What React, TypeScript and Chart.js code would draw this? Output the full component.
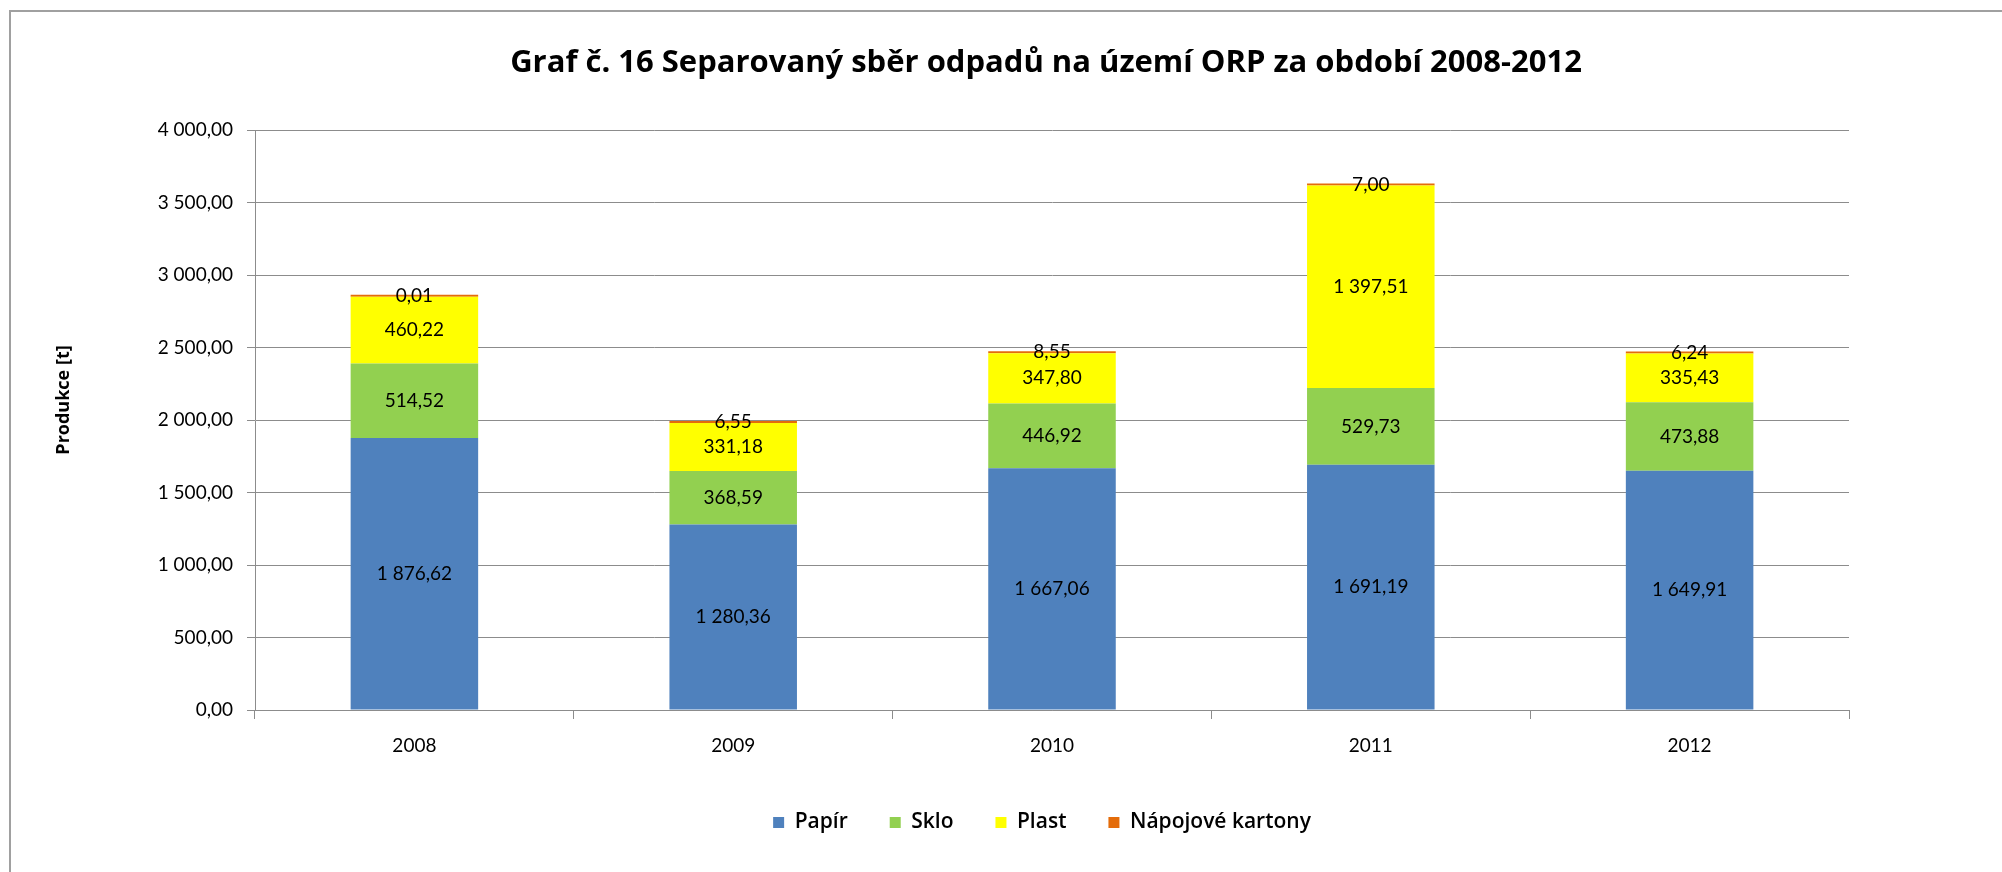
import React, { useEffect, useRef } from "react";
import { Chart, registerables } from "chart.js";

Chart.register(...registerables);

const categories = ["2008", "2009", "2010", "2011", "2012"];
const papir = [1876.62, 1280.36, 1667.06, 1691.19, 1649.91];
const sklo = [514.52, 368.59, 446.92, 529.73, 473.88];
const plast = [460.22, 331.18, 347.8, 1397.51, 335.43];
const kartony = [0.01, 6.55, 8.55, 7.0, 6.24];
const seriesNames = ["Papír", "Sklo", "Plast", "Nápojové kartony"];
const seriesColors = ["#4F81BD", "#92D050", "#FFFF00", "#E46C0A"];
const yMin = 0;
const yMax = 4000;
const yStep = 500;
const chartTitle = "Graf č. 16 Separovaný sběr odpadů na území ORP za období 2008-2012";
const yAxisTitle = "Produkce [t]";

const NUM_FONT = "Lato";
const TEXT_FONT = "Open Sans";

function fmt(v: number): string {
  const [i, d] = v.toFixed(2).split(".");
  return i.replace(/\B(?=(\d{3})+(?!\d))/g, " ") + "," + d;
}

const valueLabels = {
  id: "valueLabels",
  afterDatasetsDraw(chart: any) {
    const ctx = chart.ctx;
    ctx.save();
    ctx.font = `19px ${NUM_FONT}`;
    ctx.fillStyle = "#000";
    ctx.textAlign = "center";
    ctx.textBaseline = "middle";
    chart.data.datasets.forEach((ds: any, di: number) => {
      const meta = chart.getDatasetMeta(di);
      meta.data.forEach((el: any, i: number) => {
        const v = ds.data[i] as number;
        const { x, y, base } = el.getProps(["x", "y", "base"], true);
        ctx.fillText(fmt(v), x, (y + base) / 2);
      });
    });
    ctx.restore();
  },
};

const yTitlePlugin = {
  id: "yTitlePlugin",
  afterDraw(chart: any) {
    const ctx = chart.ctx;
    ctx.save();
    ctx.translate(64, 400);
    ctx.rotate(-Math.PI / 2);
    ctx.font = `bold 18px ${TEXT_FONT}`;
    ctx.fillStyle = "#000";
    ctx.textAlign = "center";
    ctx.textBaseline = "middle";
    ctx.fillText(yAxisTitle, 0, 0);
    ctx.restore();
  },
};

const shiftBoxes = {
  id: "shiftBoxes",
  afterLayout(chart: any) {
    const t = chart.titleBlock;
    if (t) {
      t.left -= 6;
      t.right -= 6;
    }
    const l = chart.legend;
    if (l) {
      l.left -= 10;
      l.right -= 10;
    }
  },
};

export default function App() {
  const ref = useRef<HTMLCanvasElement | null>(null);

  useEffect(() => {
    if (!ref.current) return;
    const values = [papir, sklo, plast, kartony];
    const chart = new Chart(ref.current, {
      type: "bar",
      data: {
        labels: categories,
        datasets: values.map((d, i) => ({
          label: seriesNames[i],
          data: d,
          backgroundColor: seriesColors[i],
          borderWidth: 0,
          barPercentage: 0.4,
          categoryPercentage: 1,
          minBarLength: i === 3 ? 2 : 0,
        })),
      },
      options: {
        responsive: false,
        animation: false,
        devicePixelRatio: 1,
        layout: { padding: { left: 40, right: 153, top: 20, bottom: 29 } },
        plugins: {
          tooltip: { enabled: false },
          title: {
            display: true,
            text: chartTitle,
            fullSize: false,
            color: "#000",
            font: { family: TEXT_FONT, size: 31, weight: "bold" },
            padding: { top: 25, bottom: 48 },
          },
          legend: {
            position: "bottom",
            fullSize: false,
            labels: {
              boxWidth: 11,
              boxHeight: 11,
              padding: 42,
              color: "#000",
              font: { family: TEXT_FONT, size: 21, weight: 600 },
            },
          },
        },
        scales: {
          x: {
            stacked: true,
            afterFit: (s: any) => {
              s.height = 60;
            },
            grid: {
              display: true,
              drawOnChartArea: false,
              drawTicks: true,
              tickLength: 9,
              color: "#8c8c8c",
              offset: true,
            },
            border: { display: true, color: "#8c8c8c", width: 1 },
            ticks: {
              padding: 15,
              color: "#000",
              font: { family: NUM_FONT, size: 19 },
            },
          },
          y: {
            stacked: true,
            min: yMin,
            max: yMax,
            afterFit: (s: any) => {
              s.width = 215;
            },
            grid: {
              color: "#8c8c8c",
              drawTicks: true,
              tickLength: 8,
            },
            border: { display: true, color: "#8c8c8c", width: 1 },
            ticks: {
              stepSize: yStep,
              padding: 14,
              color: "#000",
              font: { family: NUM_FONT, size: 19 },
              callback: (v: any) => fmt(Number(v)),
            },
          },
        },
      },
      plugins: [valueLabels, yTitlePlugin, shiftBoxes],
    });
    return () => chart.destroy();
  }, []);

  return (
    <div style={{ position: "absolute", left: 0, top: 0, width: 2002, height: 872, overflow: "hidden", background: "#fff" }}>
      <div
        style={{
          position: "absolute",
          left: 9,
          top: 10,
          width: 1993,
          height: 862,
          borderTop: "2px solid #a0a0a0",
          borderLeft: "2px solid #a0a0a0",
          boxSizing: "border-box",
        }}
      />
      <canvas ref={ref} width={2002} height={872} style={{ position: "absolute", left: 0, top: 0 }} />
    </div>
  );
}
